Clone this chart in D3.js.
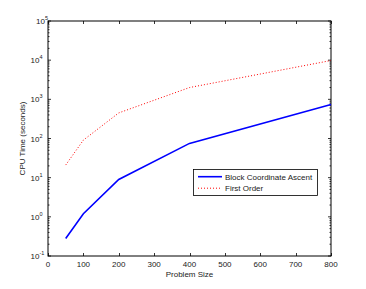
<!DOCTYPE html>
<html>
<head>
<meta charset="utf-8">
<script src="https://cdn.jsdelivr.net/npm/d3@7"></script>
<style>
  body { margin: 0; background: #fff; }
  text { font-family: "Liberation Sans", Arial, sans-serif; fill: #222; }
</style>
</head>
<body>
<svg id="chart" width="366" height="289"></svg>
<script>
// data
const problemSize = [50, 100, 200, 400, 800];
const blockCoordAscent = [0.28, 1.2, 9.0, 75, 740];
const firstOrder = [21, 91, 450, 2000, 9800];
const xTicks = [0, 100, 200, 300, 400, 500, 600, 700, 800];
const yExponents = [-1, 0, 1, 2, 3, 4, 5];

const svg = d3.select("#chart");
const m = { left: 48, right: 331, top: 21, bottom: 256 };

const x = d3.scaleLinear().domain([0, 800]).range([m.left, m.right]);
const y = d3.scaleLog().domain([0.1, 1e5]).range([m.bottom, m.top]);

// frame
svg.append("rect")
  .attr("x", m.left).attr("y", m.top)
  .attr("width", m.right - m.left).attr("height", m.bottom - m.top)
  .attr("fill", "none").attr("stroke", "#000").attr("stroke-width", 1);

const ticks = svg.append("g").attr("stroke", "#000").attr("stroke-width", 0.8);

// x ticks (inside, top and bottom)
xTicks.forEach(v => {
  const px = Math.round(x(v)) + 0.5;
  ticks.append("line").attr("x1", px).attr("x2", px).attr("y1", m.bottom).attr("y2", m.bottom - 3);
  ticks.append("line").attr("x1", px).attr("x2", px).attr("y1", m.top).attr("y2", m.top + 3);
  svg.append("text").attr("x", x(v)).attr("y", m.bottom + 11)
    .attr("text-anchor", "middle").attr("font-size", 8).text(v);
});

// y ticks (log, major + minor)
yExponents.forEach(e => {
  const py = y(Math.pow(10, e));
  ticks.append("line").attr("x1", m.left).attr("x2", m.left + 3).attr("y1", py).attr("y2", py);
  ticks.append("line").attr("x1", m.right).attr("x2", m.right - 3).attr("y1", py).attr("y2", py);
  if (e < 5) {
    for (let k = 2; k <= 9; k++) {
      const my = y(k * Math.pow(10, e));
      ticks.append("line").attr("x1", m.left).attr("x2", m.left + 1.5).attr("y1", my).attr("y2", my);
      ticks.append("line").attr("x1", m.right).attr("x2", m.right - 1.5).attr("y1", my).attr("y2", my);
    }
  }
  // labels sit left-aligned; the top one is nudged right like in the original
  const t = svg.append("text").attr("x", e === 5 ? 36 : 30.5).attr("y", py + 3)
    .attr("font-size", 8);
  t.append("tspan").text("10");
  t.append("tspan").attr("dy", -4).attr("font-size", 5.5).text(e);
});

// lines
const line = (vals) => d3.line()
  .x((d, i) => x(problemSize[i]))
  .y(d => y(d))(vals);

svg.append("path").attr("d", line(firstOrder))
  .attr("fill", "none").attr("stroke", "#ff0000").attr("stroke-width", 1)
  .attr("stroke-dasharray", "1,2");

svg.append("path").attr("d", line(blockCoordAscent))
  .attr("fill", "none").attr("stroke", "#0000ff").attr("stroke-width", 1.6);

// axis labels
svg.append("text").attr("x", (m.left + m.right) / 2).attr("y", 277)
  .attr("text-anchor", "middle").attr("font-size", 8).text("Problem Size");
svg.append("text")
  .attr("transform", `translate(25, ${(m.top + m.bottom) / 2}) rotate(-90)`)
  .attr("text-anchor", "middle").attr("font-size", 8).text("CPU Time (seconds)");

// legend
const lg = svg.append("g");
lg.append("rect").attr("x", 193.5).attr("y", 169.5).attr("width", 124).attr("height", 26)
  .attr("fill", "#fff").attr("stroke", "#000").attr("stroke-width", 0.8);
const legendItems = [
  { name: "Block Coordinate Ascent", color: "#0000ff", dash: null, w: 1.6 },
  { name: "First Order", color: "#ff0000", dash: "1,2", w: 1 }
];
legendItems.forEach((d, i) => {
  const ly = 176.7 + i * 11.5;
  lg.append("line").attr("x1", 198).attr("x2", 222).attr("y1", ly).attr("y2", ly)
    .attr("stroke", d.color).attr("stroke-width", d.w).attr("stroke-dasharray", d.dash);
  lg.append("text").attr("x", 225).attr("y", ly + 3).attr("font-size", 8).text(d.name);
});
</script>
</body>
</html>
